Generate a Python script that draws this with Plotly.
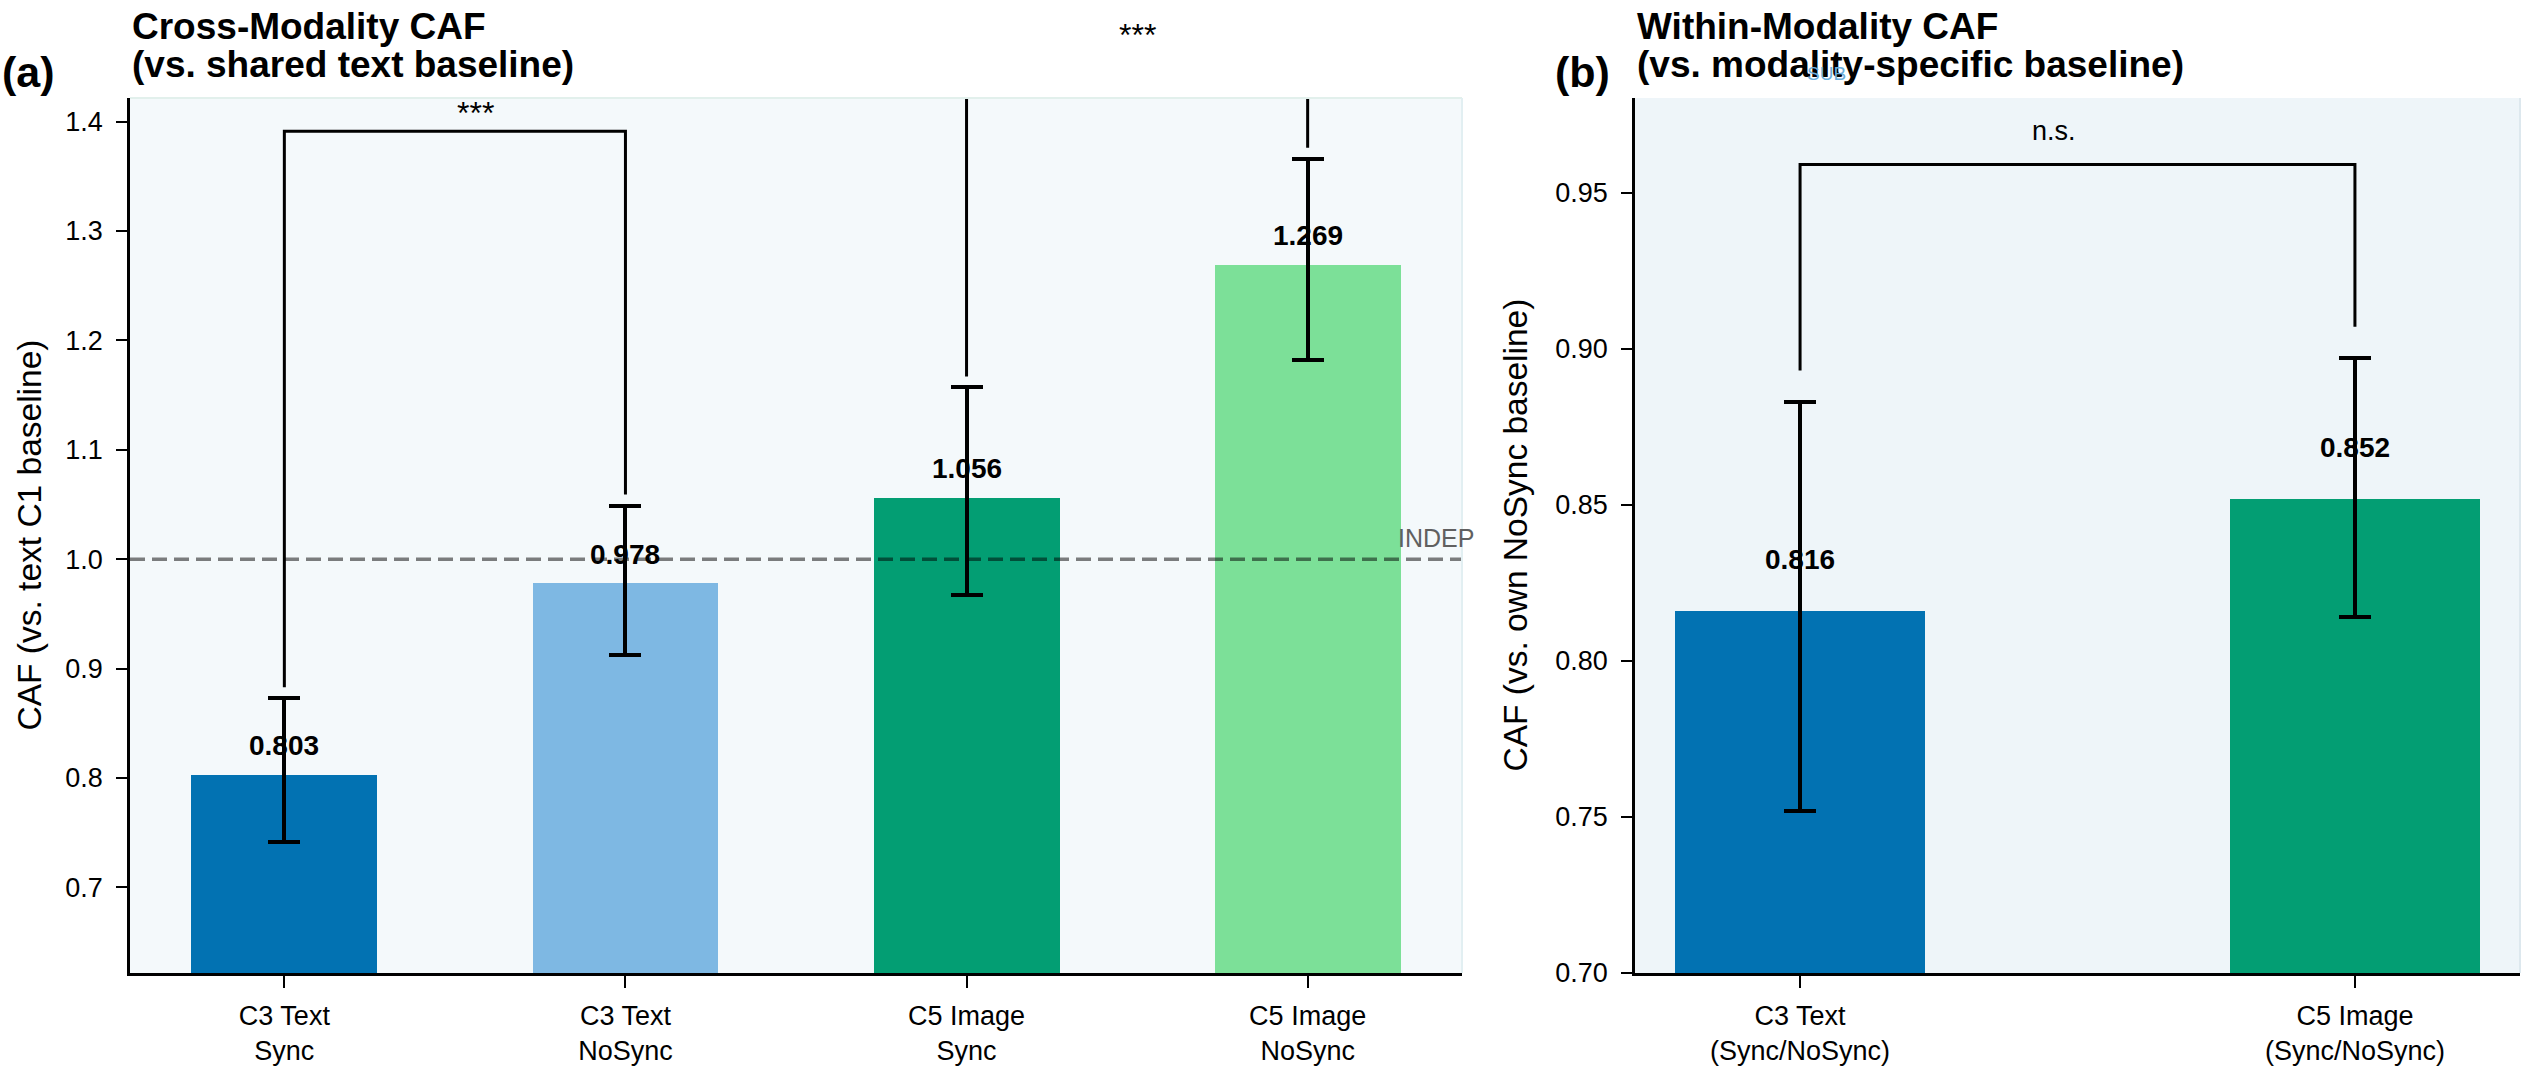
import plotly.graph_objects as go

W, H = 2527, 1067

# ---------------- data ----------------
cats_a = ["C3 Text<br>Sync", "C3 Text<br>NoSync", "C5 Image<br>Sync", "C5 Image<br>NoSync"]
vals_a = [0.803, 0.978, 1.056, 1.269]
lo_a = [0.741, 0.912, 0.967, 1.182]
hi_a = [0.873, 1.049, 1.157, 1.366]
colors_a = ["#0272B2", "#7EB8E3", "#039E73", "#7CE098"]

cats_b = ["C3 Text<br>(Sync/NoSync)", "C5 Image<br>(Sync/NoSync)"]
vals_b = [0.816, 0.852]
lo_b = [0.752, 0.814]
hi_b = [0.883, 0.897]
colors_b = ["#0272B2", "#039E73"]

sig_a = [(0, 1, 1.391, "***"), (2, 3, 1.463, "***")]
sig_b = [(0, 1, 0.959, "n.s.")]
indep_level = 1.0

FONT = "Liberation Sans"


def px_x(p):
    return p / W


def px_y(p):
    return 1 - p / H


xa_dom = [px_x(130), px_x(1462)]
xb_dom = [px_x(1635), px_x(2520)]
y_dom = [px_y(973), px_y(98)]
yr_a = [0.6217, 1.4215]
yr_b = [0.70, 0.9803]
xr_a = [-0.4525, 3.4525]
xr_b = [-0.2975, 1.2975]


def data_to_paper_y(v, rng):
    return y_dom[0] + (v - rng[0]) / (rng[1] - rng[0]) * (y_dom[1] - y_dom[0])


def data_to_paper_x(v, rng, dom):
    return dom[0] + (v - rng[0]) / (rng[1] - rng[0]) * (dom[1] - dom[0])


fig = go.Figure()

wa = 0.545
wb = 0.45

fig.add_trace(go.Bar(
    x=list(range(len(vals_a))), y=vals_a, width=wa,
    marker=dict(color=colors_a, line=dict(width=0)),
    error_y=dict(type="data", symmetric=False,
                 array=[h - v for h, v in zip(hi_a, vals_a)],
                 arrayminus=[v - l for v, l in zip(vals_a, lo_a)],
                 color="black", thickness=4, width=16),
    xaxis="x", yaxis="y", showlegend=False, hoverinfo="skip"))

fig.add_trace(go.Bar(
    x=list(range(len(vals_b))), y=vals_b, width=wb,
    marker=dict(color=colors_b, line=dict(width=0)),
    error_y=dict(type="data", symmetric=False,
                 array=[h - v for h, v in zip(hi_b, vals_b)],
                 arrayminus=[v - l for v, l in zip(vals_b, lo_b)],
                 color="black", thickness=4, width=16),
    xaxis="x2", yaxis="y2", showlegend=False, hoverinfo="skip"))

# independence reference line
fig.add_trace(go.Scatter(x=xr_a, y=[indep_level, indep_level], mode="lines",
                         line=dict(color="rgba(0,0,0,0.5)", width=3.5, dash="15px,7px"),
                         xaxis="x", yaxis="y", showlegend=False, hoverinfo="skip"))

# significance brackets
ann = []
for i, j, yb, lab in sig_a:
    fig.add_trace(go.Scatter(x=[i, i, j, j], y=[hi_a[i] + 0.01, yb, yb, hi_a[j] + 0.01],
                             mode="lines", line=dict(color="black", width=3),
                             xaxis="x", yaxis="y", showlegend=False, hoverinfo="skip"))
    ann.append(dict(x=data_to_paper_x((i + j) / 2, xr_a, xa_dom), y=data_to_paper_y(yb, yr_a),
                    xref="paper", yref="paper", text=lab, showarrow=False,
                    yanchor="middle", yshift=18, font=dict(family=FONT, size=32, color="black")))
for i, j, yb, lab in sig_b:
    fig.add_trace(go.Scatter(x=[i, i, j, j], y=[hi_b[i] + 0.01, yb, yb, hi_b[j] + 0.01],
                             mode="lines", line=dict(color="black", width=3),
                             xaxis="x2", yaxis="y2", showlegend=False, hoverinfo="skip"))
    ann.append(dict(x=data_to_paper_x((i + j) / 2, xr_b, xb_dom), y=data_to_paper_y(yb, yr_b),
                    xref="paper", yref="paper", text=lab, showarrow=False,
                    yanchor="middle", yshift=33, font=dict(family=FONT, size=27, color="black")))

# value labels
for i, v in enumerate(vals_a):
    ann.append(dict(x=i, y=v, xref="x", yref="y", text=f"<b>{v:.3f}</b>", showarrow=False,
                    yanchor="middle", yshift=29, font=dict(family=FONT, size=28, color="black")))
for i, v in enumerate(vals_b):
    ann.append(dict(x=i, y=v, xref="x2", yref="y2", text=f"<b>{v:.3f}</b>", showarrow=False,
                    yanchor="middle", yshift=51, font=dict(family=FONT, size=28, color="black")))

# INDEP label
ann.append(dict(x=px_x(1476), y=data_to_paper_y(indep_level, yr_a), xref="paper", yref="paper",
                text="INDEP", showarrow=False, xanchor="right", yanchor="middle", yshift=21,
                font=dict(family=FONT, size=25, color="#606060")))

# titles
TS = 37
ann += [
    dict(x=px_x(130), y=px_y(27), xref="paper", yref="paper", text="<b>Cross-Modality CAF</b>",
         showarrow=False, xanchor="left", yanchor="middle", font=dict(family=FONT, size=TS, color="black")),
    dict(x=px_x(130), y=px_y(64), xref="paper", yref="paper", text="<b>(vs. shared text baseline)</b>",
         showarrow=False, xanchor="left", yanchor="middle", font=dict(family=FONT, size=TS, color="black")),
    dict(x=px_x(1635), y=px_y(27), xref="paper", yref="paper", text="<b>Within-Modality CAF</b>",
         showarrow=False, xanchor="left", yanchor="middle", font=dict(family=FONT, size=TS, color="black")),
    dict(x=px_x(1635), y=px_y(64), xref="paper", yref="paper", text="<b>(vs. modality-specific baseline)</b>",
         showarrow=False, xanchor="left", yanchor="middle", font=dict(family=FONT, size=TS, color="black")),
    dict(x=px_x(0), y=px_y(72), xref="paper", yref="paper", text="<b>(a)</b>",
         showarrow=False, xanchor="left", yanchor="middle", font=dict(family=FONT, size=43, color="black")),
    dict(x=px_x(1553), y=px_y(72), xref="paper", yref="paper", text="<b>(b)</b>",
         showarrow=False, xanchor="left", yanchor="middle", font=dict(family=FONT, size=43, color="black")),
    dict(x=px_x(1826), y=px_y(73), xref="paper", yref="paper", text="SUB",
         showarrow=False, xanchor="center", yanchor="middle", font=dict(family=FONT, size=19, color="#6AAEDC")),
    # y-axis titles
    dict(x=px_x(29), y=(y_dom[0] + y_dom[1]) / 2, xref="paper", yref="paper",
         text="CAF (vs. text C1 baseline)", textangle=-90, showarrow=False,
         xanchor="center", yanchor="middle", font=dict(family=FONT, size=33.5, color="black")),
    dict(x=px_x(1515), y=(y_dom[0] + y_dom[1]) / 2, xref="paper", yref="paper",
         text="CAF (vs. own NoSync baseline)", textangle=-90, showarrow=False,
         xanchor="center", yanchor="middle", font=dict(family=FONT, size=33.5, color="black")),
]

# faint top/right frame edges
shapes = [
    dict(type="rect", xref="paper", yref="paper", x0=xb_dom[0], x1=xb_dom[1], y0=y_dom[0], y1=y_dom[1],
         fillcolor="#EEF5F9", line=dict(width=0), layer="below"),
    dict(type="line", xref="paper", yref="paper", x0=xa_dom[0], x1=xa_dom[1], y0=y_dom[1], y1=y_dom[1],
         line=dict(color="#E2F0EC", width=2)),
    dict(type="line", xref="paper", yref="paper", x0=xa_dom[1], x1=xa_dom[1], y0=y_dom[0], y1=y_dom[1],
         line=dict(color="#E2EFF2", width=2)),
    dict(type="line", xref="paper", yref="paper", x0=xb_dom[1], x1=xb_dom[1], y0=y_dom[0], y1=y_dom[1],
         line=dict(color="#DDE8EE", width=2)),
]

tickfont = dict(family=FONT, size=27, color="black")
common_x = dict(showline=True, linecolor="black", linewidth=2.5, ticks="outside", ticklen=12,
                tickwidth=2, tickcolor="black", showgrid=False, zeroline=False, tickfont=tickfont,
                ticklabelstandoff=5, fixedrange=True, automargin=False)
common_y = dict(showline=True, linecolor="black", linewidth=2.5, ticks="outside", ticklen=11,
                tickwidth=2, tickcolor="black", showgrid=False, zeroline=False, tickfont=tickfont,
                ticklabelstandoff=8, fixedrange=True, automargin=False)

fig.update_layout(
    width=W, height=H, margin=dict(l=0, r=0, t=0, b=0, autoexpand=False),
    paper_bgcolor="white", plot_bgcolor="#F4F9FB",
    font=dict(family=FONT, color="black"),
    bargap=0,
    xaxis=dict(domain=xa_dom, range=xr_a, tickvals=list(range(len(cats_a))), ticktext=cats_a,
               anchor="y", **common_x),
    yaxis=dict(domain=y_dom, range=yr_a, tickvals=[0.7, 0.8, 0.9, 1.0, 1.1, 1.2, 1.3, 1.4],
               tickformat=".1f", anchor="x", **common_y),
    xaxis2=dict(domain=xb_dom, range=xr_b, tickvals=list(range(len(cats_b))), ticktext=cats_b,
                anchor="y2", **common_x),
    yaxis2=dict(domain=y_dom, range=yr_b, tickvals=[0.70, 0.75, 0.80, 0.85, 0.90, 0.95],
                tickformat=".2f", anchor="x2", **common_y),
    annotations=ann,
    shapes=shapes,
)

fig.write_html("out.html")
